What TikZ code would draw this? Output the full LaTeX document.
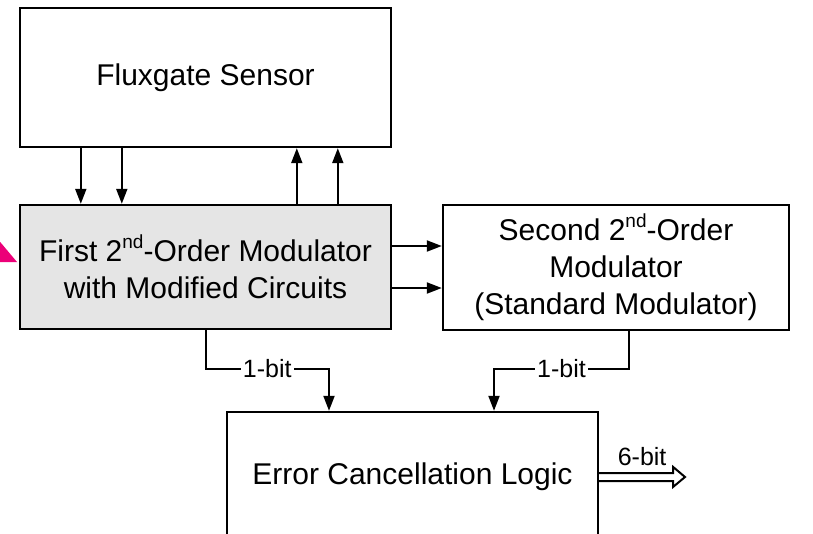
\documentclass[tikz,border=0pt]{standalone}
\usepackage{fontspec}
\setmainfont{Liberation Sans}
\usepackage{tikz}
\definecolor{markpink}{RGB}{236,0,120}
\usetikzlibrary{arrows.meta,calc}

\newcommand{\nd}{\raisebox{0.42em}{\fontsize{19}{19}\selectfont nd}}

\begin{document}
\begin{tikzpicture}[
  x=1pt, y=-1pt,
  block/.style={
    draw, line width=2.4pt, minimum width=371pt,
    align=center, inner sep=0pt,
    font=\fontsize{30}{37}\selectfont
  },
  arr/.style={-{Triangle[length=15pt,width=11pt]}, line width=2pt},
  hollow/.style={draw, line width=2pt, miter limit=20, fill=white},
  bitlbl/.style={fill=white, inner sep=2pt, font=\fontsize{25}{25}\selectfont},
]
\useasboundingbox (0,0) rectangle (813,533);
\clip (0,0) rectangle (813,533);

% Blocks
\node[block, minimum height=139pt] (flux) at (205.5,77.5) {Fluxgate Sensor};
\node[block, minimum height=124pt, fill=black!10] (mod1) at (205.5,267)
  {First 2\nd-Order Modulator\\with Modified Circuits};
\node[block, minimum height=125pt, minimum width=346pt] (mod2) at (616,267.5)
  {Second 2\nd-Order\\Modulator\\(Standard Modulator)};
\node[block, minimum height=130pt] (err) at (412.5,477) {Error Cancellation Logic};

% Marker at the left edge
\fill[markpink] (-4,237) -- (17,262) -- (-4,262) -- cycle;

% Sensor <-> first modulator
\draw[arr] ([xshift=62pt]flux.south west) -- ([xshift=62pt]mod1.north west);
\draw[arr] ([xshift=103pt]flux.south west) -- ([xshift=103pt]mod1.north west);
\draw[arr] ([xshift=278pt]mod1.north west) -- ([xshift=278pt]flux.south west);
\draw[arr] ([xshift=319pt]mod1.north west) -- ([xshift=319pt]flux.south west);

% First -> second modulator
\draw[arr] ([yshift=21pt]mod1.east) -- ([yshift=21pt]mod1.east -| mod2.west);
\draw[arr] ([yshift=-21pt]mod1.east) -- ([yshift=-21pt]mod1.east -| mod2.west);

% 1-bit outputs
\coordinate (b1) at (329,369);
\coordinate (b2) at (494,369);
\draw[arr] (mod1.south) |- node[bitlbl, pos=0.75] {1-bit} (b1) -- (b1 |- err.north);
\draw[arr] ([xshift=13pt]mod2.south) |- node[bitlbl, pos=0.75] {1-bit} (b2) -- (b2 |- err.north);

% 6-bit output (hollow arrow)
\coordinate (out) at (685,477);
\path[hollow] ([yshift=4pt]err.east) -- ++(74,0) -- ++(0,-6) -- (out)
  -- ++(-12,10) -- ++(0,-6) -- ++(-74,0);
\node[font=\fontsize{25}{25}\selectfont, above=8pt] (six) at ($(err.east)!0.5!(out)$) {6-bit};

\end{tikzpicture}
\end{document}
